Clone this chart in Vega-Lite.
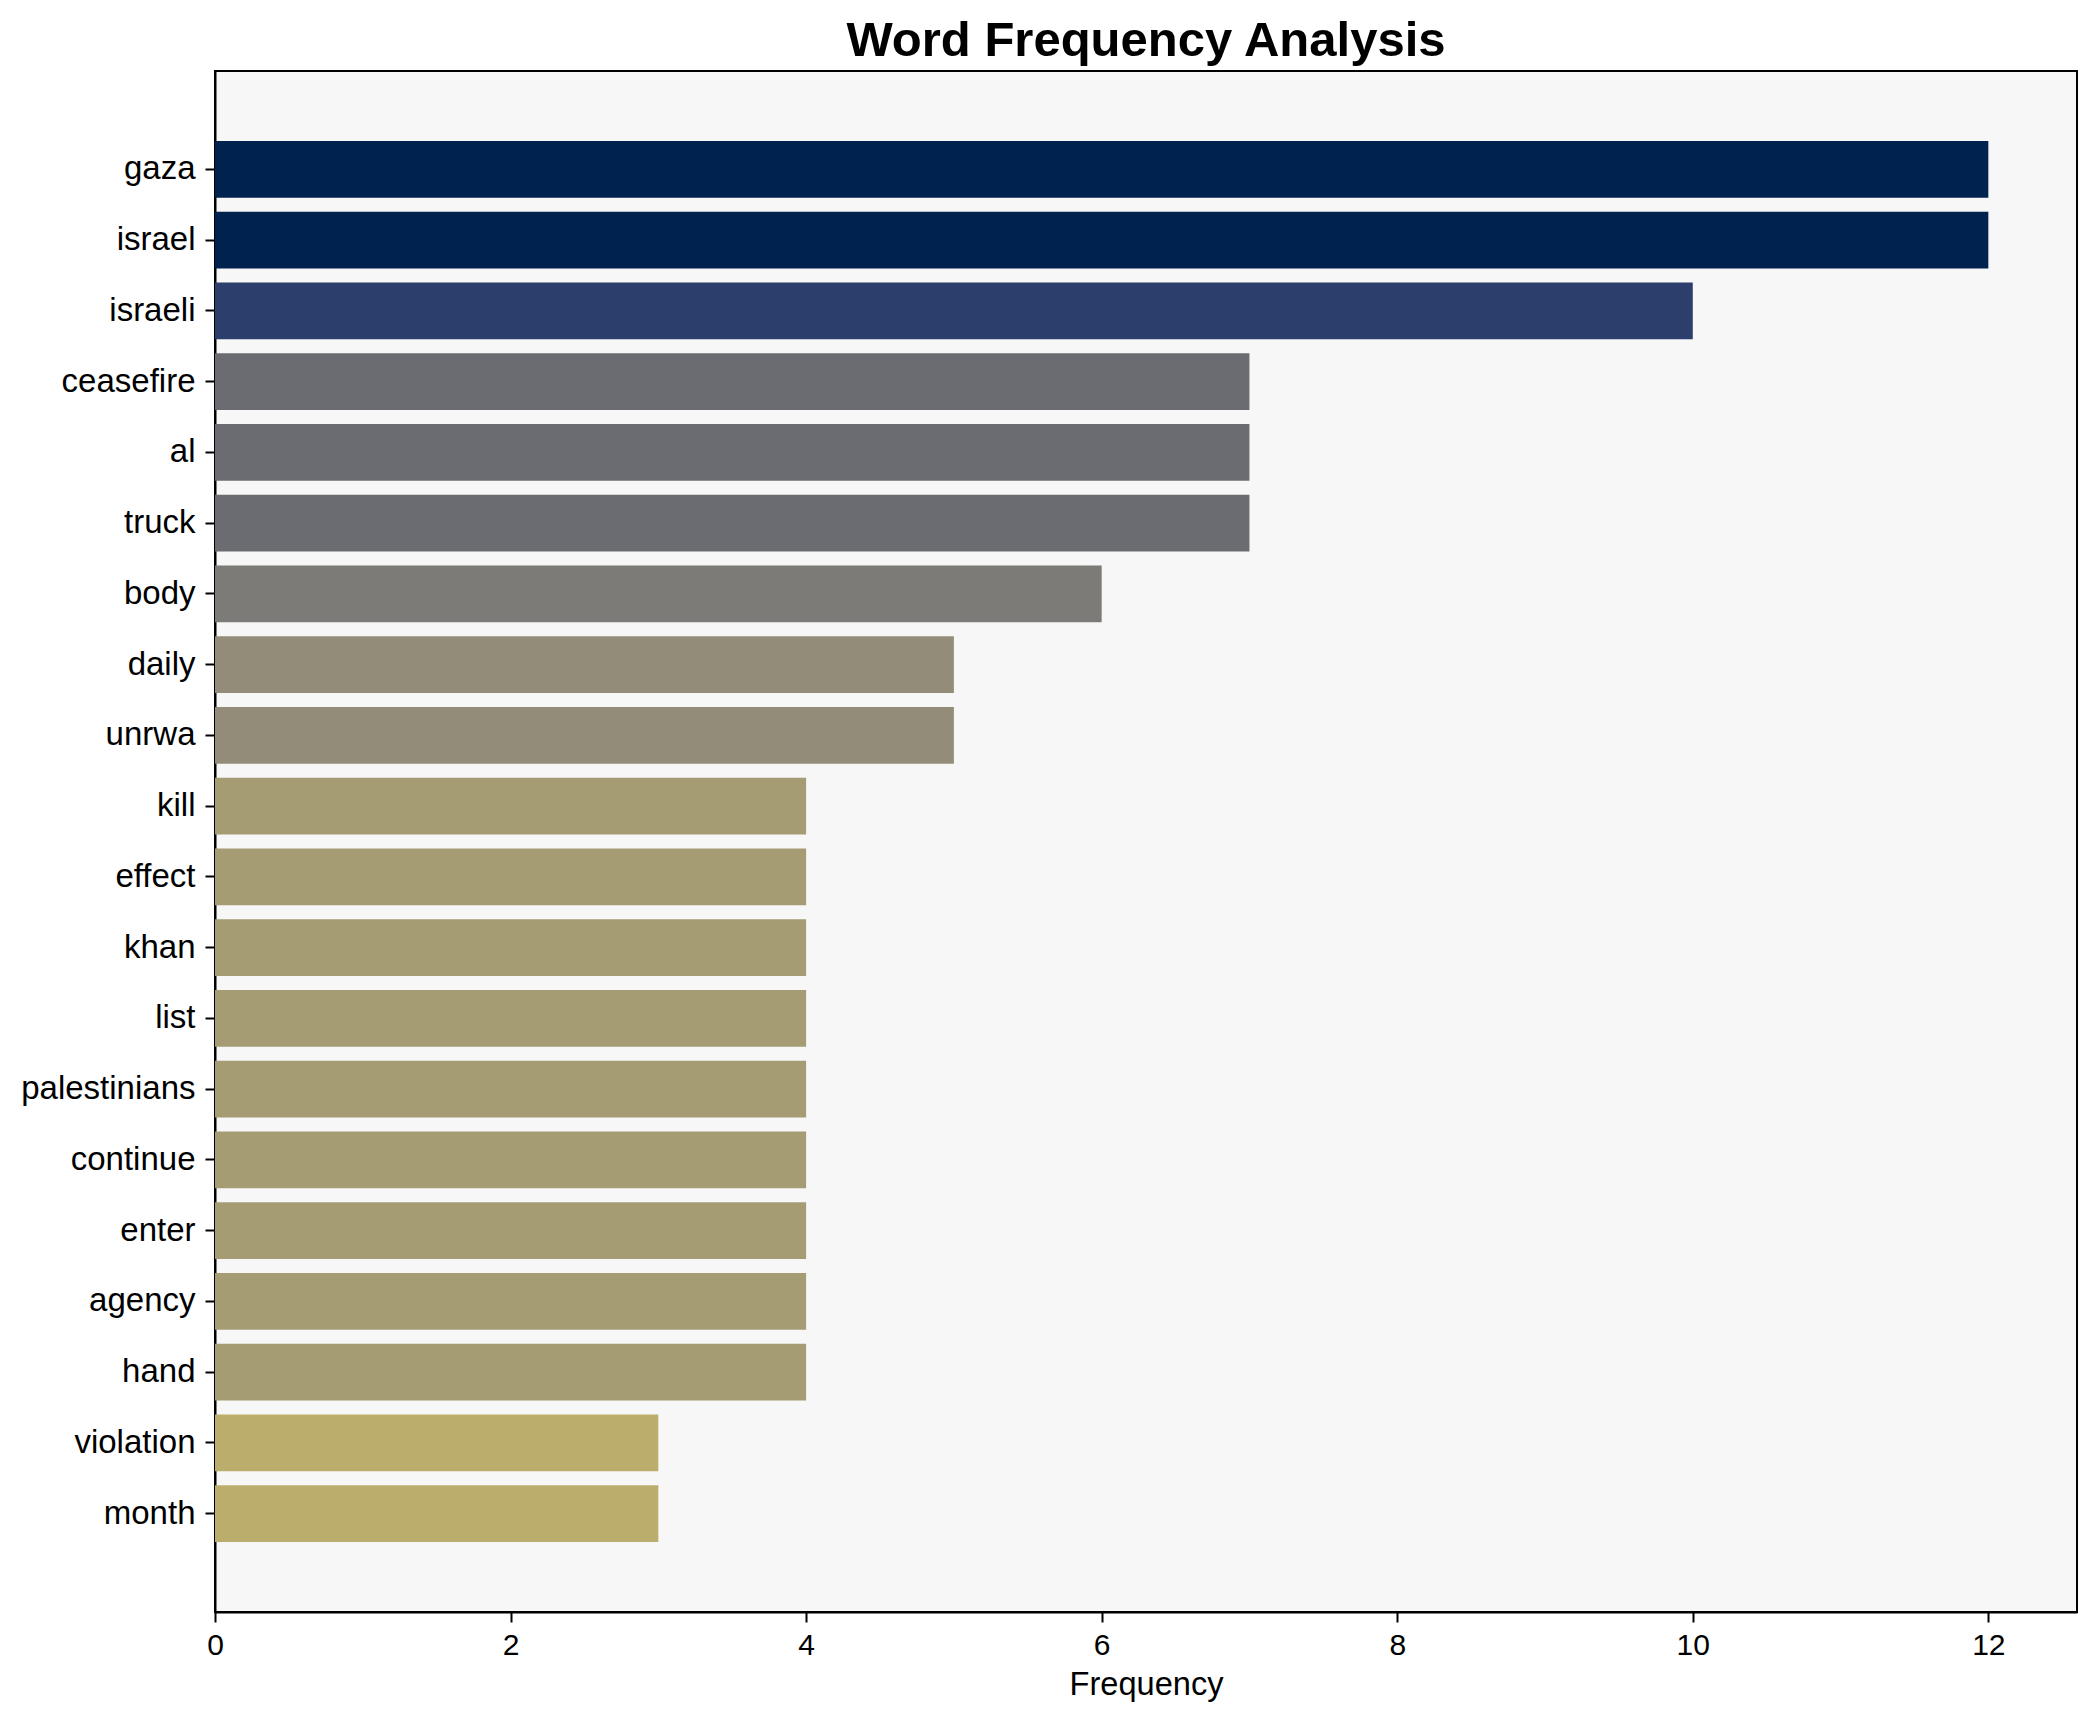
{
  "$schema": "https://vega.github.io/schema/vega-lite/v6.json",
  "width": 1862,
  "height": 1541,
  "autosize": {"type": "none"},
  "padding": {"left": 215, "top": 71, "right": 18, "bottom": 110},
  "background": "white",
  "title": {
    "text": "Word Frequency Analysis",
    "fontSize": 49,
    "font": "Liberation Sans",
    "fontWeight": "bold",
    "color": "black",
    "anchor": "middle",
    "baseline": "alphabetic",
    "offset": 14,
    "dy": 48
  },
  "data": {
    "values": [
      {"word": "gaza", "frequency": 12},
      {"word": "israel", "frequency": 12},
      {"word": "israeli", "frequency": 10},
      {"word": "ceasefire", "frequency": 7},
      {"word": "al", "frequency": 7},
      {"word": "truck", "frequency": 7},
      {"word": "body", "frequency": 6},
      {"word": "daily", "frequency": 5},
      {"word": "unrwa", "frequency": 5},
      {"word": "kill", "frequency": 4},
      {"word": "effect", "frequency": 4},
      {"word": "khan", "frequency": 4},
      {"word": "list", "frequency": 4},
      {"word": "palestinians", "frequency": 4},
      {"word": "continue", "frequency": 4},
      {"word": "enter", "frequency": 4},
      {"word": "agency", "frequency": 4},
      {"word": "hand", "frequency": 4},
      {"word": "violation", "frequency": 3},
      {"word": "month", "frequency": 3}
    ]
  },
  "mark": {"type": "bar"},
  "encoding": {
    "y": {
      "field": "word",
      "type": "nominal",
      "sort": null,
      "scale": {"paddingInner": 0.2, "paddingOuter": 0.99},
      "axis": {
        "title": null,
        "labelFont": "Liberation Sans",
        "labelFontSize": 33,
        "labelColor": "black",
        "labelPadding": 10,
        "labelLimit": 500,
        "tickColor": "black",
        "tickSize": 10,
        "tickWidth": 2,
        "domainColor": "black",
        "domainWidth": 2
      }
    },
    "x": {
      "field": "frequency",
      "type": "quantitative",
      "scale": {"domain": [0, 12.6], "nice": false, "zero": true},
      "axis": {
        "title": "Frequency",
        "titleFont": "Liberation Sans",
        "titleFontSize": 32.6,
        "titleFontWeight": "normal",
        "titleColor": "black",
        "titlePadding": 8,
        "values": [0, 2, 4, 6, 8, 10, 12],
        "format": "d",
        "grid": false,
        "labelFont": "Liberation Sans",
        "labelFontSize": 30,
        "labelColor": "black",
        "labelPadding": 8,
        "labelFlush": false,
        "tickColor": "black",
        "tickSize": 10,
        "tickWidth": 2,
        "domainColor": "black",
        "domainWidth": 2
      }
    },
    "color": {
      "field": "frequency",
      "type": "ordinal",
      "scale": {
        "domain": [3, 4, 5, 6, 7, 10, 12],
        "range": ["#bbad6c", "#a59c74", "#938c78", "#7c7b78", "#6b6c71", "#2c3e6c", "#00224e"]
      },
      "legend": null
    }
  },
  "config": {
    "view": {"fill": "#f7f7f7", "stroke": "black", "strokeWidth": 2}
  }
}
